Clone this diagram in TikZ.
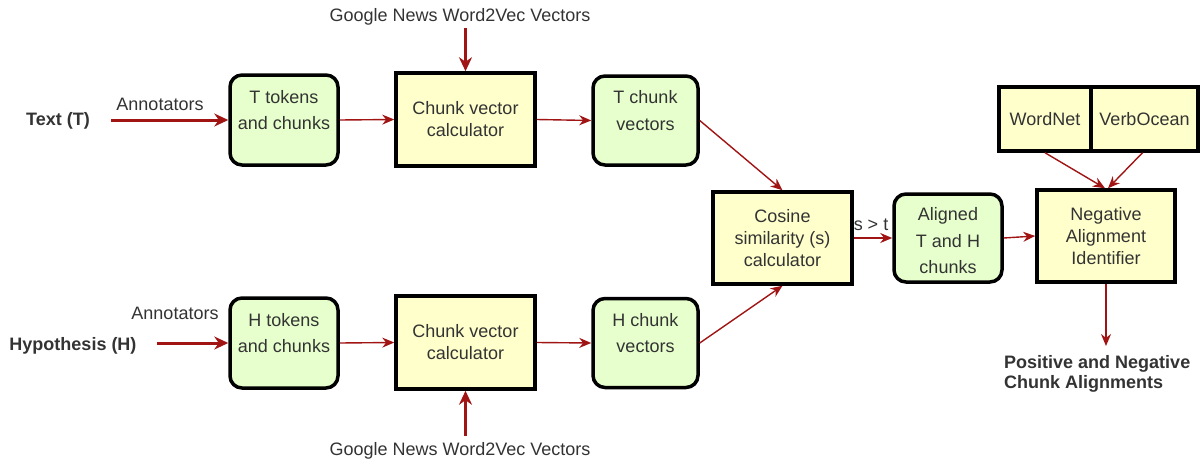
\documentclass[tikz,border=0pt]{standalone}
\usepackage{fontspec}
\setmainfont{Liberation Sans}
\usetikzlibrary{arrows.meta}
\definecolor{arrowred}{HTML}{A01414}
\definecolor{txtgray}{HTML}{333333}
\definecolor{greenfill}{HTML}{E6FFCC}
\definecolor{yellowfill}{HTML}{FFFFCC}
\begin{document}
\begin{tikzpicture}[x=1pt,y=-1pt,
  every node/.style={text=txtgray,font=\fontsize{18}{22}\selectfont},
  greenbox/.style={draw=black,line width=3.5pt,fill=greenfill,rounded corners=12pt,align=center,inner sep=0pt},
  gtext/.style={align=center,inner sep=0pt,font=\fontsize{18}{26.5}\selectfont},
  yellowbox/.style={draw=black,line width=3.5pt,fill=yellowfill,align=center,inner sep=0pt},
  lbl/.style={inner sep=0pt,align=center},
  thinarrow/.style={draw=arrowred,line width=1.4pt,-{Stealth[length=12pt,width=10pt]}},
  thickarrow/.style={draw=arrowred,line width=3pt,-{Stealth[length=14pt,width=13pt]}}
]
\useasboundingbox (0,0) rectangle (1200,463);

% top row
\node[greenbox,minimum width=108,minimum height=90,label={[gtext,yshift=10pt]center:T tokens\\and chunks}] (tt) at (284,120) {};
\node[yellowbox,minimum width=139,minimum height=93] (tc) at (465.5,119.5) {Chunk vector\\calculator};
\node[greenbox,minimum width=105,minimum height=89,label={[gtext,yshift=10pt]center:T chunk\\vectors}] (tv) at (645.5,120.5) {};

% bottom row
\node[greenbox,minimum width=108,minimum height=90,label={[gtext,yshift=10pt]center:H tokens\\and chunks}] (ht) at (284,343) {};
\node[yellowbox,minimum width=139,minimum height=93] (hc) at (465.5,342.5) {Chunk vector\\calculator};
\node[greenbox,minimum width=105,minimum height=89,label={[gtext,yshift=10pt]center:H chunk\\vectors}] (hv) at (645.5,343) {};

% middle / right
\node[yellowbox,minimum width=139,minimum height=92] (cos) at (782.5,238) {Cosine\\similarity (s)\\calculator};
\node[greenbox,minimum width=108,minimum height=88,label={[gtext,yshift=-3pt]center:Aligned\\T and H\\chunks}] (al) at (948,238) {};
\node[yellowbox,minimum width=138,minimum height=92] (neg) at (1106,236) {Negative\\Alignment\\Identifier};
\node[yellowbox,minimum width=92,minimum height=64] (wn) at (1045,119) {WordNet};
\node[yellowbox,minimum width=107,minimum height=64] (vo) at (1144.5,119) {VerbOcean};

% labels
\node[lbl,font=\fontsize{18}{22}\selectfont\bfseries] (txt) at (58,121) {Text (T)};
\node[lbl,font=\fontsize{18}{22}\selectfont\bfseries] (hyp) at (73,346) {Hypothesis (H)};
\node[lbl] (ann1) at (160,104) {Annotators};
\node[lbl] (ann2) at (175,313) {Annotators};
\node[lbl] (gn1) at (460,17) {Google News Word2Vec Vectors};
\node[lbl] (gn2) at (460,451) {Google News Word2Vec Vectors};
\node[lbl] (st) at (871,225) {s > t};
\node[lbl,anchor=west,align=left,font=\fontsize{18}{20}\selectfont\bfseries] (out) at (1004,374) {Positive and Negative\\Chunk Alignments};

\coordinate (tin) at (111,120);
\coordinate (hin) at (157,343);
\coordinate (gt) at (465.5,28);
\coordinate (gb) at (465.5,436);
\coordinate (negout) at (1106,346);

% connectors
\draw[thickarrow] (tin) -- (tt.west);
\draw[thickarrow] (hin) -- (ht.west);
\draw[thickarrow] (gt) -- (tc.north);
\draw[thickarrow] (gb) -- (hc.south);
\draw[thinarrow] (tt.east) -- (tc.west);
\draw[thinarrow] (tc.east) -- (tv.west);
\draw[thinarrow] (ht.east) -- (hc.west);
\draw[thinarrow] (hc.east) -- (hv.west);
\draw[thinarrow] (tv.east) -- (cos.north);
\draw[thinarrow] (hv.east) -- (cos.south);
\draw[thinarrow] (cos.east) -- (al.west);
\draw[thinarrow] (al.east) -- (neg.west);
\draw[thinarrow] (wn.south) -- ([xshift=-1pt]neg.north);
\draw[thinarrow] ([xshift=-2pt]vo.south) -- ([xshift=2pt]neg.north);
\draw[thinarrow] (neg.south) -- (negout);
\end{tikzpicture}
\end{document}
